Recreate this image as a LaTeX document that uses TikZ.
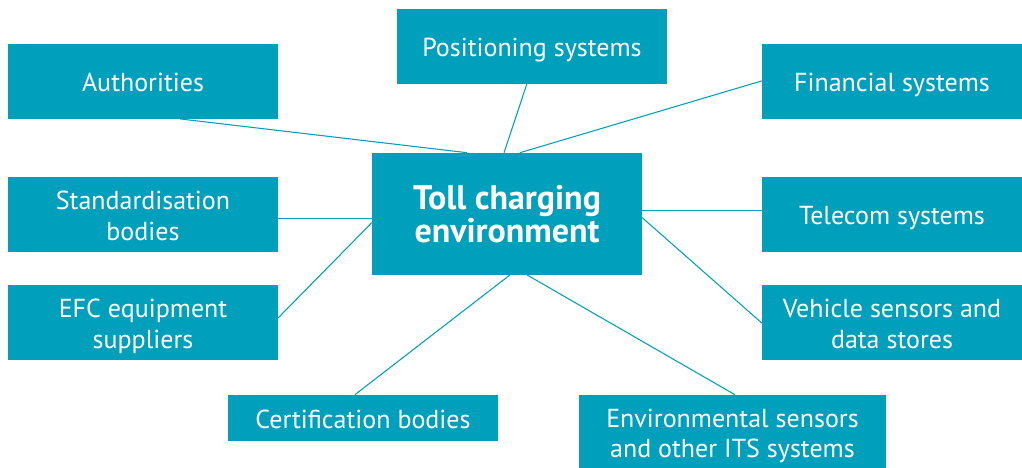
\documentclass[tikz,border=0pt]{standalone}
\usepackage{fontspec}
\setmainfont{PT Sans}
\usetikzlibrary{calc}
\definecolor{teal1}{RGB}{0,160,188}
\tikzset{
  box/.style={rectangle, fill=teal1, text=white, inner sep=0pt, align=center,
    font=\fontsize{19.5}{23.7}\selectfont},
  one/.style={text height=15.6pt, text depth=0pt},
  two/.style={text height=40pt, text depth=0pt},
  wide/.style={minimum width=270*0.75pt, minimum height=74.7*0.75pt},
  rwide/.style={minimum width=260*0.75pt, minimum height=74.7*0.75pt},
  link/.style={draw=teal1, line width=0.8pt},
}
\begin{document}
\begin{tikzpicture}[x=0.75pt,y=-0.75pt]
\useasboundingbox (0,0) rectangle (1022,468);
\node[box,wide,one] (auth) at (143,81.3) {Authorities};
\node[box,wide,one] (pos) at (532,46.3) {Positioning systems};
\node[box,rwide,one] (fin) at (892,81.3) {Financial systems};
\node[box,wide,two] (std) at (143,214.3) {Standardisation\\bodies};
\node[box,minimum width=270*0.75pt,minimum height=121.7*0.75pt,
  font=\bfseries\fontsize{25.5}{22.5}\selectfont,text height=43.3pt,text depth=0pt] (toll) at (507,213.8) {Toll charging\\environment};
\node[box,rwide,one] (tel) at (892,214.3) {Telecom systems};
\node[box,wide,two] (efc) at (143,322.3) {EFC equipment\\suppliers};
\node[box,rwide,two] (veh) at (892,322.3) {Vehicle sensors and\\data stores};
\node[box,one,minimum width=270*0.75pt,minimum height=45.7*0.75pt] (cert) at (363,417.8) {Certification bodies};
\node[box,minimum width=307*0.75pt,minimum height=73*0.75pt,
  font=\fontsize{19.5}{23}\selectfont,text height=39.5pt,text depth=0pt] (env) at (732.5,431.5) {Environmental sensors\\and other ITS systems};
% connectors
\draw[link] ($(auth.south west)!0.637!(auth.south east)$) -- ($(toll.north west)!0.352!(toll.north east)$);
\draw[link] ($(pos.south west)!0.481!(pos.south east)$) -- ($(toll.north west)!0.489!(toll.north east)$);
\draw[link] ($(fin.north west)!0.495!(fin.south west)$) -- ($(toll.north west)!0.548!(toll.north east)$);
\coordinate (tstd) at ($(toll.north west)!0.537!(toll.south west)$);
\draw[link] (tstd) -- (tstd -| std.east);
\draw[link] ($(efc.north east)!0.44!(efc.south east)$) -- ($(toll.north west)!0.573!(toll.south west)$);
\draw[link] ($(cert.north west)!0.47!(cert.north east)$) -- ($(toll.south west)!0.511!(toll.south east)$);
\coordinate (ttel) at ($(toll.north east)!0.471!(toll.south east)$);
\draw[link] (ttel) -- (ttel -| tel.west);
\draw[link] ($(toll.north east)!0.532!(toll.south east)$) -- ($(veh.north west)!0.509!(veh.south west)$);
\draw[link] ($(toll.south west)!0.574!(toll.south east)$) -- ($(env.north west)!0.508!(env.north east)$);
\end{tikzpicture}
\end{document}
